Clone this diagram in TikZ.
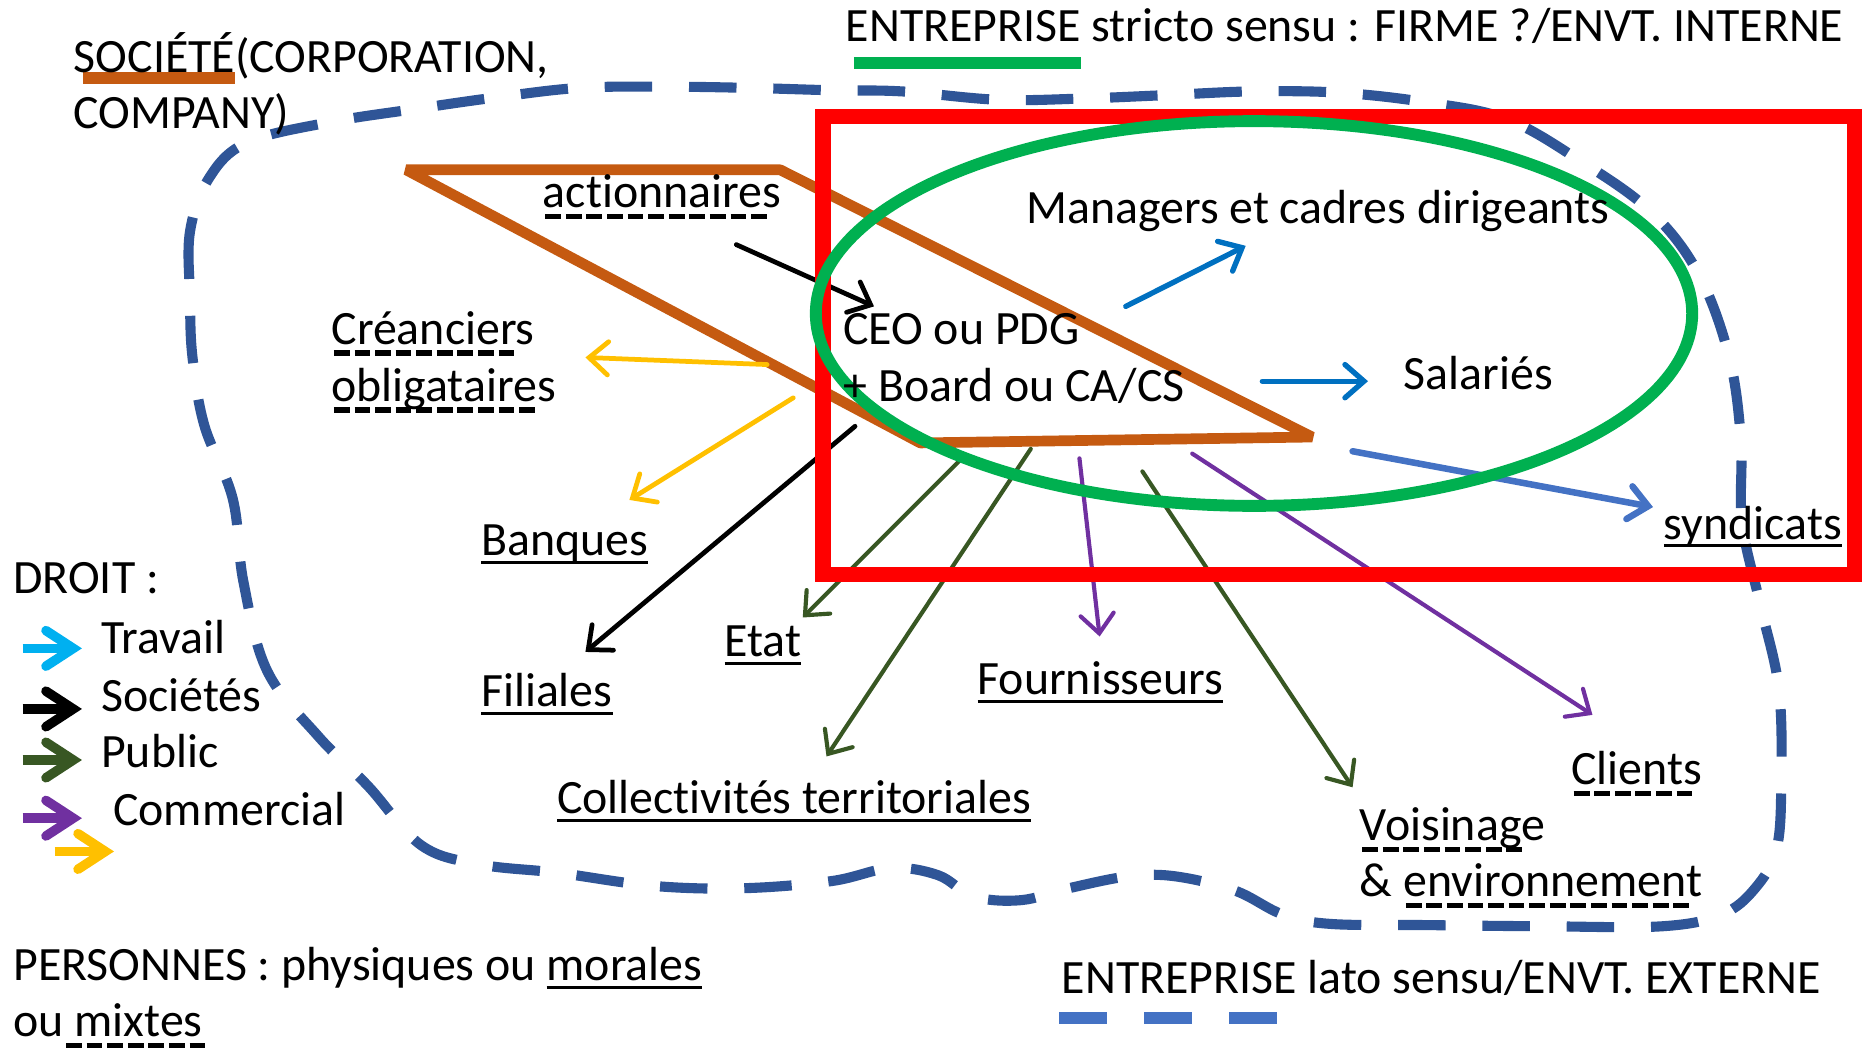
\documentclass[tikz,border=0pt]{standalone}
\usepackage{fontspec}
\setmainfont{Carlito}[Ligatures=NoCommon]
\usetikzlibrary{arrows.meta}

\definecolor{blobBlue}{RGB}{47,85,151}
\definecolor{lightBlue}{RGB}{68,114,196}
\definecolor{midBlue}{RGB}{0,112,192}
\definecolor{cyanTravail}{RGB}{0,176,240}
\definecolor{greenFirm}{RGB}{0,176,80}
\definecolor{orangeSoc}{RGB}{197,90,17}
\definecolor{greenPublic}{RGB}{56,87,35}
\definecolor{purpleCom}{RGB}{112,48,160}
\definecolor{yellowCom}{RGB}{255,192,0}

% soulignements plein / tirets
\newsavebox\ulbox
\newcommand{\plainul}[1]{\sbox\ulbox{#1}\rlap{\rule[-7pt]{\wd\ulbox}{2.5pt}}\usebox\ulbox}
\newcommand{\dashul}[1]{\sbox\ulbox{#1}\rlap{\hbox to \wd\ulbox{\leaders\hbox{\kern.05em\rule[-9.5pt]{.33em}{4.5pt}\kern.05em}\hfil}}\usebox\ulbox}

\begin{document}
\begin{tikzpicture}[x=1pt,y=1pt,yscale=-1,xscale=1,
  txt/.style={anchor=base west,inner sep=0pt,font=\fontsize{40.3}{48}\selectfont},
  blob/.style={draw=blobBlue,line width=8.5pt,dash pattern=on 40pt off 31pt},
  shaft/.style={line width=4pt,line cap=round,-{Straight Barb[length=16pt,width=28pt,line cap=round]}},
  legend/.style={line width=8pt,-{Straight Barb[length=23pt,width=30pt,line cap=round]}}]
\useasboundingbox (0,0) rectangle (1568,883);

%Shape: dashed blob (entreprise lato sensu)
\draw [blob] plot [smooth cycle, tension=0.6] coordinates {
  (176,150) (160,195) (160,250) (162,300) (172,358) (196,420) (205,490) (225,565)
  (268,620) (310,662) (355,712) (405,728) (470,735) (550,746) (625,748) (700,742)
  (750,731) (790,737) (820,755) (860,758) (900,748) (950,738) (990,738) (1040,750)
  (1080,770) (1120,778) (1200,779) (1300,780) (1400,780) (1450,770) (1478,748) (1496,715)
  (1500,660) (1498,580) (1482,508) (1467,440) (1466,370) (1456,300) (1430,230) (1390,178)
  (1330,135) (1268,100) (1200,86) (1127,78) (1054,77) (984,80) (911,83) (840,84)
  (760,77) (700,76) (630,74) (560,73) (488,74) (418,82) (348,92) (277,103) (208,120) };

%Shape: orange polygon (societe)
\draw [orangeSoc, line width=9pt, line join=bevel] (342,143) -- (657,143) -- (1105,368) -- (775,373) -- cycle;

%Arrow tails and tips
\coordinate (actTail) at (620,206);  \coordinate (actTip) at (736,258);
\coordinate (creTail) at (646,307);  \coordinate (creTip) at (493,301);
\coordinate (banTail) at (668,335);  \coordinate (banTip) at (530,421);
\coordinate (filTail) at (720,359);  \coordinate (filTip) at (493,549);
\coordinate (etaTail) at (808,388);  \coordinate (etaTip) at (676,520);
\coordinate (colTail) at (868,378);  \coordinate (colTip) at (696,637);
\coordinate (fouTail) at (909,386);  \coordinate (fouTip) at (926,536);
\coordinate (voiTail) at (962,397);  \coordinate (voiTip) at (1139,663);
\coordinate (cliTail) at (1004,382); \coordinate (cliTip) at (1341,602);
\coordinate (synTail) at (1139,380); \coordinate (synTip) at (1392,427);
\coordinate (manTail) at (948,258);  \coordinate (manTip) at (1049,207);
\coordinate (salTail) at (1063,321); \coordinate (salTip) at (1152,321);

%Straight Lines: arrows
\draw [shaft, black] (actTail) -- (actTip);
\draw [shaft, yellowCom] (creTail) -- (creTip);
\draw [shaft, yellowCom] (banTail) -- (banTip);
\draw [shaft, black] (filTail) -- (filTip);
\draw [shaft, greenPublic, line width=3.5pt] (etaTail) -- (etaTip);
\draw [shaft, greenPublic, line width=3.5pt] (colTail) -- (colTip);
\draw [shaft, purpleCom, line width=3.5pt] (fouTail) -- (fouTip);
\draw [shaft, greenPublic, line width=3.5pt] (voiTail) -- (voiTip);
\draw [shaft, purpleCom, line width=3.5pt] (cliTail) -- (cliTip);
\draw [shaft, lightBlue, line width=5.5pt] (synTail) -- (synTip);
\draw [shaft, midBlue, line width=4.5pt] (manTail) -- (manTip);
\draw [shaft, midBlue, line width=4.5pt] (salTail) -- (salTip);

%Shape: red rectangle
\draw [red, line width=13pt] (693,98) rectangle (1562,484);
%Shape: green ellipse
\draw [greenFirm, line width=10pt] (1056,264) ellipse [x radius=369, y radius=162];

%Legend bars
\draw [orangeSoc, line width=10pt] (70,66) -- (198,66);
\draw [greenFirm, line width=10pt] (719,53) -- (910,53);
\draw [lightBlue, line width=10pt, dash pattern=on 40pt off 31.5pt] (892,857) -- (1075,857);

% Text Node
\node [txt] (societe) at (62,61) {SOCIÉTÉ(CORPORATION,};
\node [txt] (company) at (62,108) {COMPANY)};
\node [txt] (stricto) at (712,35) {ENTREPRISE stricto sensu : FIRME ?/ENVT. INTERNE};
\node [txt] (actionnaires) at (457,175) {\dashul{actionnaires}};
\node [txt] (ceo) at (710,290) {CEO ou PDG};
\node [txt] (board) at (710,338) {+ Board ou CA/CS};
\node [txt] (managers) at (864,188) {Managers et cadres dirigeants};
\node [txt] (salaries) at (1182,328) {Salariés};
\node [txt] (creanciers) at (279,290) {\dashul{Créanciers}};
\node [txt] (obligataires) at (279,338) {\dashul{obligataires}};
\node [txt] (banques) at (405,468) {\plainul{Banques}};
\node [txt] (filiales) at (405,595) {\plainul{Filiales}};
\node [txt] (etat) at (610,553) {\plainul{Etat}};
\node [txt] (collectivites) at (469,685) {\plainul{Collectivités territoriales}};
\node [txt] (fournisseurs) at (823,585) {\plainul{Fournisseurs}};
\node [txt] (syndicats) at (1401,454) {\plainul{syndicats}};
\node [txt] (clients) at (1323,661) {\dashul{Clients}};
\node [txt] (voisinage) at (1145,708) {\dashul{Voisinage}};
\node [txt] (environnement) at (1145,755) {\& \dashul{environnement}};
\node [txt] (lato) at (894,837) {ENTREPRISE lato sensu/ENVT. EXTERNE};
\node [txt] (droit) at (11,500) {DROIT :};
\node [txt] (travail) at (85,550) {Travail};
\node [txt] (societes) at (85,599) {Sociétés};
\node [txt] (public) at (85,646) {Public};
\node [txt] (commercial) at (95,695) {Commercial};
\node [txt] (personnes) at (11,826) {PERSONNES : physiques ou \plainul{morales}};
\node [txt] (mixtes) at (11,873) {ou\dashul{\ mixtes\ }};

%Legend arrows
\coordinate (lgA) at (19,546); \coordinate (lgB) at (69,546);
\coordinate (lgC) at (19,597); \coordinate (lgD) at (69,597);
\coordinate (lgE) at (19,640); \coordinate (lgF) at (69,640);
\coordinate (lgG) at (19,689); \coordinate (lgH) at (69,689);
\coordinate (lgI) at (46,717); \coordinate (lgJ) at (96,717);
\draw [legend, cyanTravail] (lgA) -- (lgB);
\draw [legend, black] (lgC) -- (lgD);
\draw [legend, greenPublic] (lgE) -- (lgF);
\draw [legend, purpleCom] (lgG) -- (lgH);
\draw [legend, yellowCom] (lgI) -- (lgJ);

\end{tikzpicture}
\end{document}
